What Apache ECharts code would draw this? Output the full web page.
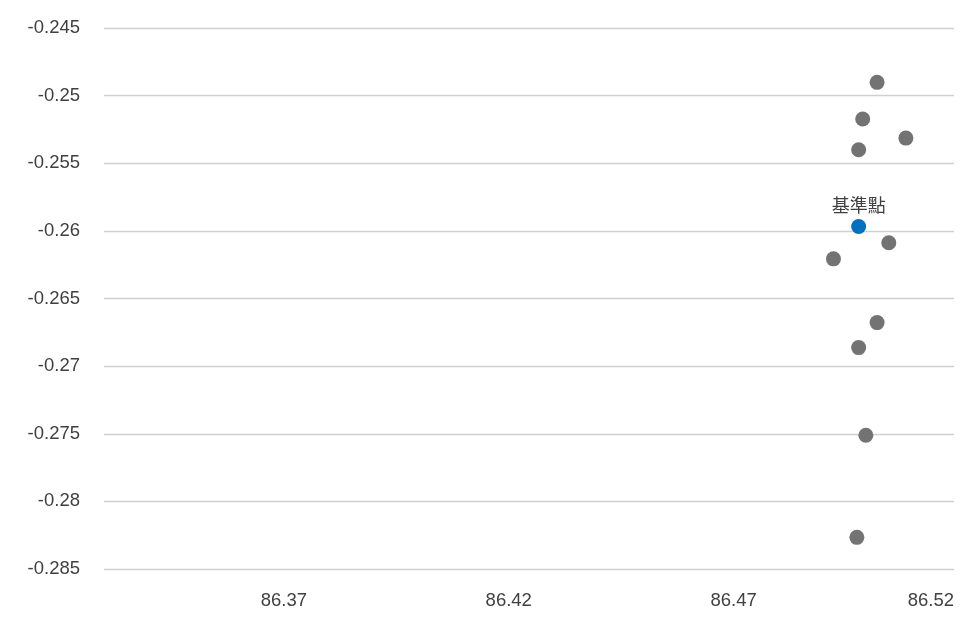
<!DOCTYPE html>
<html>
<head>
    <meta charset="UTF-8">
    <title></title>
    <script src="https://cdn.jsdelivr.net/npm/echarts@6/dist/echarts.min.js"></script>
    <style>
        html, body { margin: 0; padding: 0; background: #fff; }
        #container { width: 980px; height: 630px; }
    </style>
</head>
<body>
    <div id="container"></div>
    <script type="text/javascript">
        // reference point
        var refX = [86.4978];
        var refY = [-0.25968];
        var refName = '基準點';

        // other points
        var ptX = [86.5019, 86.4987, 86.5083, 86.4978, 86.5045, 86.4922, 86.5019, 86.4978, 86.4994, 86.4974];
        var ptY = [-0.24902, -0.25173, -0.25314, -0.25400, -0.26088, -0.26207, -0.26678, -0.26863, -0.27511, -0.28266];

        // x axis labels
        var xTicks = [86.37, 86.42, 86.47, 86.519];

        var myChart = echarts.init(document.getElementById('container'));

        var pts = [];
        for (var i = 0; i < ptX.length; i++) {
            pts.push([ptX[i], ptY[i]]);
        }
        var ref = [[refX[0], refY[0]]];

        var labelFont = 'Liberation Sans, Arial, sans-serif';

        var option = {
            animation: false,
            grid: {
                left: 104,
                right: 26,
                top: 28,
                bottom: 61
            },
            xAxis: {
                type: 'value',
                min: 86.33,
                max: 86.519,
                splitLine: { show: false },
                axisLine: { show: false },
                axisTick: { show: false },
                axisLabel: {
                    customValues: xTicks,
                    alignMaxLabel: 'right',
                    color: '#404040',
                    fontSize: 18.5,
                    fontFamily: labelFont,
                    margin: 22,
                    formatter: function (v) { return v.toFixed(2); }
                }
            },
            yAxis: {
                type: 'value',
                min: -0.285,
                max: -0.245,
                interval: 0.005,
                axisLine: { show: false },
                axisTick: { show: false },
                splitLine: { lineStyle: { color: '#d0d0d0', width: 1.3 } },
                axisLabel: {
                    color: '#404040',
                    fontSize: 18.5,
                    fontFamily: labelFont,
                    margin: 24,
                    formatter: function (v) { return String(+v.toFixed(3)); }
                }
            },
            series: [
                {
                    type: 'scatter',
                    data: pts,
                    symbolSize: 15,
                    itemStyle: { color: '#737373', opacity: 1 },
                    z: 2
                },
                {
                    type: 'scatter',
                    data: ref,
                    symbolSize: 15,
                    itemStyle: { color: '#0070c0', opacity: 1 },
                    label: {
                        show: true,
                        position: 'top',
                        distance: 5,
                        formatter: refName,
                        color: '#404040',
                        fontSize: 18,
                        fontFamily: 'Noto Sans CJK TC, sans-serif'
                    },
                    z: 3
                }
            ]
        };

        myChart.setOption(option, true);
    </script>
</body>
</html>
